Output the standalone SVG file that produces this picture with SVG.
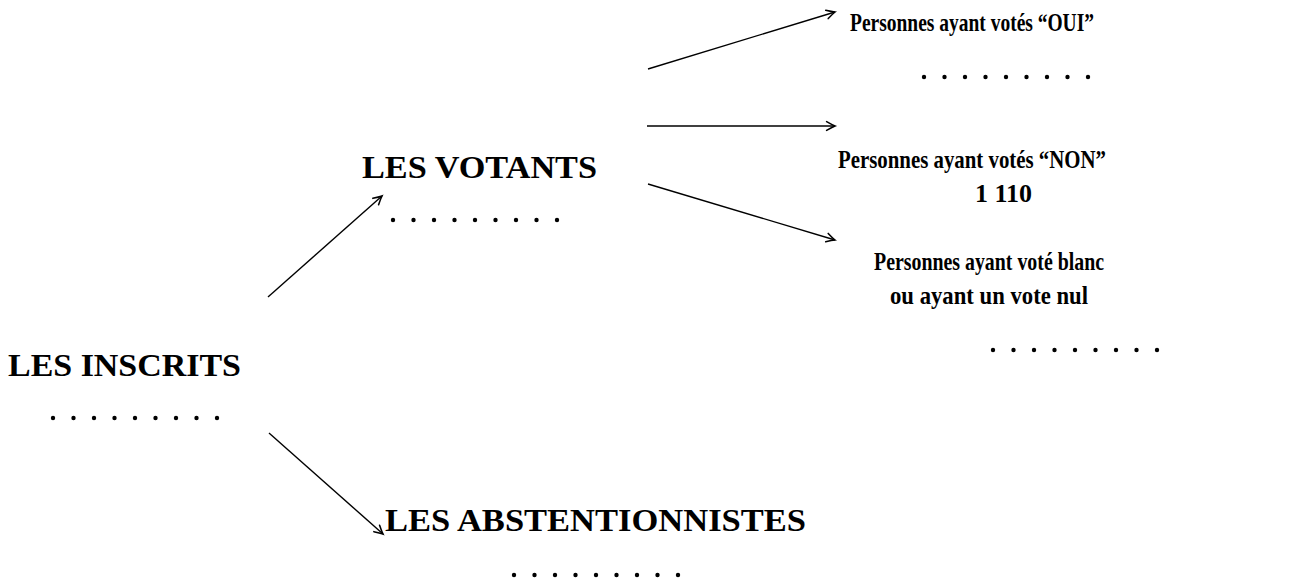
<svg xmlns="http://www.w3.org/2000/svg" width="1313" height="584" viewBox="0 0 1313 584">
<style>
.t{font-family:"Liberation Serif","Times New Roman",serif;font-weight:bold;fill:#000}
.s{font-size:25px}
.l{font-size:32px}
.c{stroke:#000;stroke-width:1.4;fill:none}
.d{fill:#000}
</style>
<defs>
<marker id="ah" markerUnits="userSpaceOnUse" markerWidth="14" markerHeight="12" viewBox="-8 -5 10 10" refX="0" refY="0" orient="auto">
<path d="M -7 -3.6 Q -2.5 -1 0 0 Q -2.5 1 -7 3.6" fill="none" stroke="#000" stroke-width="1.3" stroke-linecap="round"/>
</marker>
<g id="dots9">
<circle cx="0" cy="0" r="2.2"/><circle cx="20.5" cy="0" r="2.2"/><circle cx="41" cy="0" r="2.2"/><circle cx="61.5" cy="0" r="2.2"/><circle cx="82" cy="0" r="2.2"/><circle cx="102.5" cy="0" r="2.2"/><circle cx="123" cy="0" r="2.2"/><circle cx="143.5" cy="0" r="2.2"/><circle cx="164" cy="0" r="2.2"/>
</g>
</defs>
<rect width="1313" height="584" fill="#fff"/>
<g id="connectors">
<line class="c" x1="268" y1="297" x2="382" y2="196" marker-end="url(#ah)"/>
<line class="c" x1="269" y1="433" x2="383" y2="534" marker-end="url(#ah)"/>
<line class="c" x1="648" y1="69" x2="835" y2="12" marker-end="url(#ah)"/>
<line class="c" x1="647" y1="126" x2="835" y2="126" marker-end="url(#ah)"/>
<line class="c" x1="648" y1="184" x2="835" y2="240" marker-end="url(#ah)"/>
</g>
<g id="inscrits">
<text class="t l" x="8" y="376" textLength="233" lengthAdjust="spacingAndGlyphs">LES INSCRITS</text>
<use href="#dots9" class="d" x="53" y="418"/>
</g>
<g id="votants">
<text class="t l" x="362" y="178" textLength="235" lengthAdjust="spacingAndGlyphs">LES VOTANTS</text>
<use href="#dots9" class="d" x="393" y="220"/>
</g>
<g id="abstentionnistes">
<text class="t l" x="385" y="531" textLength="421" lengthAdjust="spacingAndGlyphs">LES ABSTENTIONNISTES</text>
<use href="#dots9" class="d" x="514" y="575"/>
</g>
<g id="oui">
<text class="t s" x="850" y="31" textLength="244" lengthAdjust="spacingAndGlyphs">Personnes ayant votés “OUI”</text>
<use href="#dots9" class="d" x="924" y="77"/>
</g>
<g id="non">
<text class="t s" x="838" y="168" textLength="268" lengthAdjust="spacingAndGlyphs">Personnes ayant votés “NON”</text>
<text class="t s" x="975" y="202" textLength="57" lengthAdjust="spacingAndGlyphs">1 110</text>
</g>
<g id="blanc">
<text class="t s" x="874" y="270" textLength="230" lengthAdjust="spacingAndGlyphs">Personnes ayant voté blanc</text>
<text class="t s" x="890" y="304" textLength="198" lengthAdjust="spacingAndGlyphs">ou ayant un vote nul</text>
<use href="#dots9" class="d" x="993" y="350"/>
</g>
</svg>
